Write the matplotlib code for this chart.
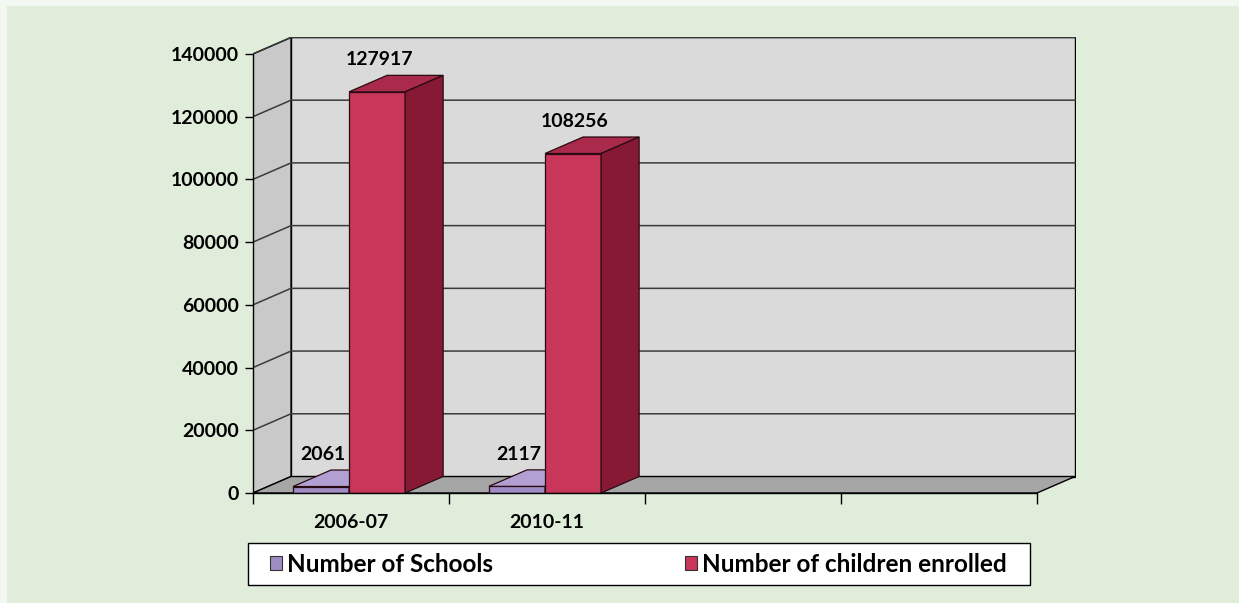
import matplotlib.pyplot as plt
from matplotlib.patches import Patch, Rectangle


categories = ['2006-07', '2010-11', '', '']
series_names = ['Number of Schools', 'Number of children enrolled']
schools = [2061, 2117]
children = [127917, 108256]
y_ticks = [0, 20000, 40000, 60000, 80000, 100000, 120000, 140000]

BG = '#e0eddb'
WALL_BACK = '#dadada'
WALL_LEFT = '#c9c9c9'
FLOOR = '#a6a6a6'
GRID = '#3a3a3a'
# front, top, side colours for each series
FACE = {
	'schools': ('#a08cc4', '#b3a0d2', '#7e69a6'),
	'children': ('#c8365a', '#a92a4a', '#861a35'),
}

DX = 0.194     # depth offset in category units
DY = 5260      # depth offset in value units
BAR_W = 0.286
BAR_START = 0.204
FONT = 'Lato'


def draw_walls(ax, n_slots, y_max):
	'Back wall, left wall, floor and the gridlines running round them.'
	ax.fill([DX, n_slots + DX, n_slots + DX, DX], [DY, DY, y_max + DY, y_max + DY],
			facecolor=WALL_BACK, edgecolor='black', linewidth=1, zorder=1)
	ax.fill([0, DX, DX, 0], [0, DY, y_max + DY, y_max], facecolor=WALL_LEFT,
			edgecolor='black', linewidth=1, zorder=1)
	for y in y_ticks[1:]:
		ax.plot([0, DX, n_slots + DX], [y, y + DY, y + DY], color=GRID, linewidth=1.1, zorder=1.5)
	ax.fill([0, n_slots, n_slots + DX, DX], [0, 0, DY, DY], facecolor=FLOOR,
			edgecolor='black', linewidth=1, zorder=2)


def draw_bar(ax, x0, value, colors):
	'A pseudo 3D column: front face, top and right side.'
	front, top, side = colors
	x1 = x0 + BAR_W
	ax.fill([x0, x1, x1, x0], [0, 0, value, value], facecolor=front, edgecolor='#2a0a12', linewidth=0.9, zorder=3)
	ax.fill([x0, x1, x1 + DX, x0 + DX], [value, value, value + DY, value + DY],
			facecolor=top, edgecolor='#2a0a12', linewidth=0.9, zorder=3)
	ax.fill([x1, x1 + DX, x1 + DX, x1], [0, DY, value + DY, value],
			facecolor=side, edgecolor='#2a0a12', linewidth=0.9, zorder=3)
	ax.annotate(f'{value}', (x0 + BAR_W / 2 + 0.01, value + DY), xytext=(0, 5), textcoords='offset points',
				ha='center', va='bottom', fontsize=14, fontweight='bold', family=FONT, zorder=5)


def main():
	fig = plt.figure(figsize=(12.39, 6.03), dpi=100)
	fig.patch.set_facecolor('#f3f7f1')
	fig.patches.append(Rectangle((7 / 1239, 0), 1, 1 - 6 / 603, transform=fig.transFigure,
								 facecolor=BG, edgecolor='none', zorder=-1))

	n_slots = len(categories)
	y_max = y_ticks[-1]
	ax = fig.add_axes([253 / 1239, 110 / 603, 823.2 / 1239, 456.3 / 603])
	ax.set_facecolor('none')
	ax.set_xlim(0, n_slots + 0.2)
	ax.set_ylim(0, y_max + 5500)

	draw_walls(ax, n_slots, y_max)
	for i in range(len(schools)):
		draw_bar(ax, i + BAR_START, schools[i], FACE['schools'])
		draw_bar(ax, i + BAR_START + BAR_W, children[i], FACE['children'])

	for side in ['top', 'right']:
		ax.spines[side].set_visible(False)
	ax.spines['left'].set_bounds(0, y_max)
	ax.spines['bottom'].set_bounds(0, n_slots)
	for side in ['left', 'bottom']:
		ax.spines[side].set_linewidth(1)
		ax.spines[side].set_zorder(4)

	ax.set_yticks(y_ticks)
	ax.set_yticklabels([str(v) for v in y_ticks], fontsize=14, fontweight='bold', family=FONT)
	ax.tick_params(axis='y', length=6, width=1, pad=4)
	ax.set_xticks([i + 0.5 for i in range(n_slots)])
	ax.set_xticklabels(categories, fontsize=14, fontweight='bold', family=FONT)
	ax.set_xticks(range(n_slots + 1), minor=True)
	ax.tick_params(axis='x', which='major', length=0, pad=15)
	ax.tick_params(axis='x', which='minor', length=8, width=1)

	# legend box, then the entries spread inside it
	fig.patches.append(Rectangle((248 / 1239, 18 / 603), 782 / 1239, 42 / 603, transform=fig.transFigure,
								 facecolor='white', edgecolor='black', linewidth=1, zorder=4))
	handles = [Patch(facecolor=FACE['schools'][0], edgecolor='#333333', linewidth=0.8),
			   Patch(facecolor=FACE['children'][0], edgecolor='#333333', linewidth=0.8)]
	leg = fig.legend(handles, series_names, ncol=2, mode='expand',
					 bbox_to_anchor=(270 / 1239, 18 / 603, 737 / 1239, 42 / 603), loc='center',
					 prop={'family': FONT, 'weight': 'bold', 'size': 17.5},
					 handlelength=0.5, handleheight=0.5, handletextpad=0.2,
					 borderpad=0, borderaxespad=0, frameon=False)
	leg.set_zorder(5)

	fig.savefig('out.png', dpi=100, facecolor=fig.get_facecolor())


if __name__ == '__main__':
	main()
